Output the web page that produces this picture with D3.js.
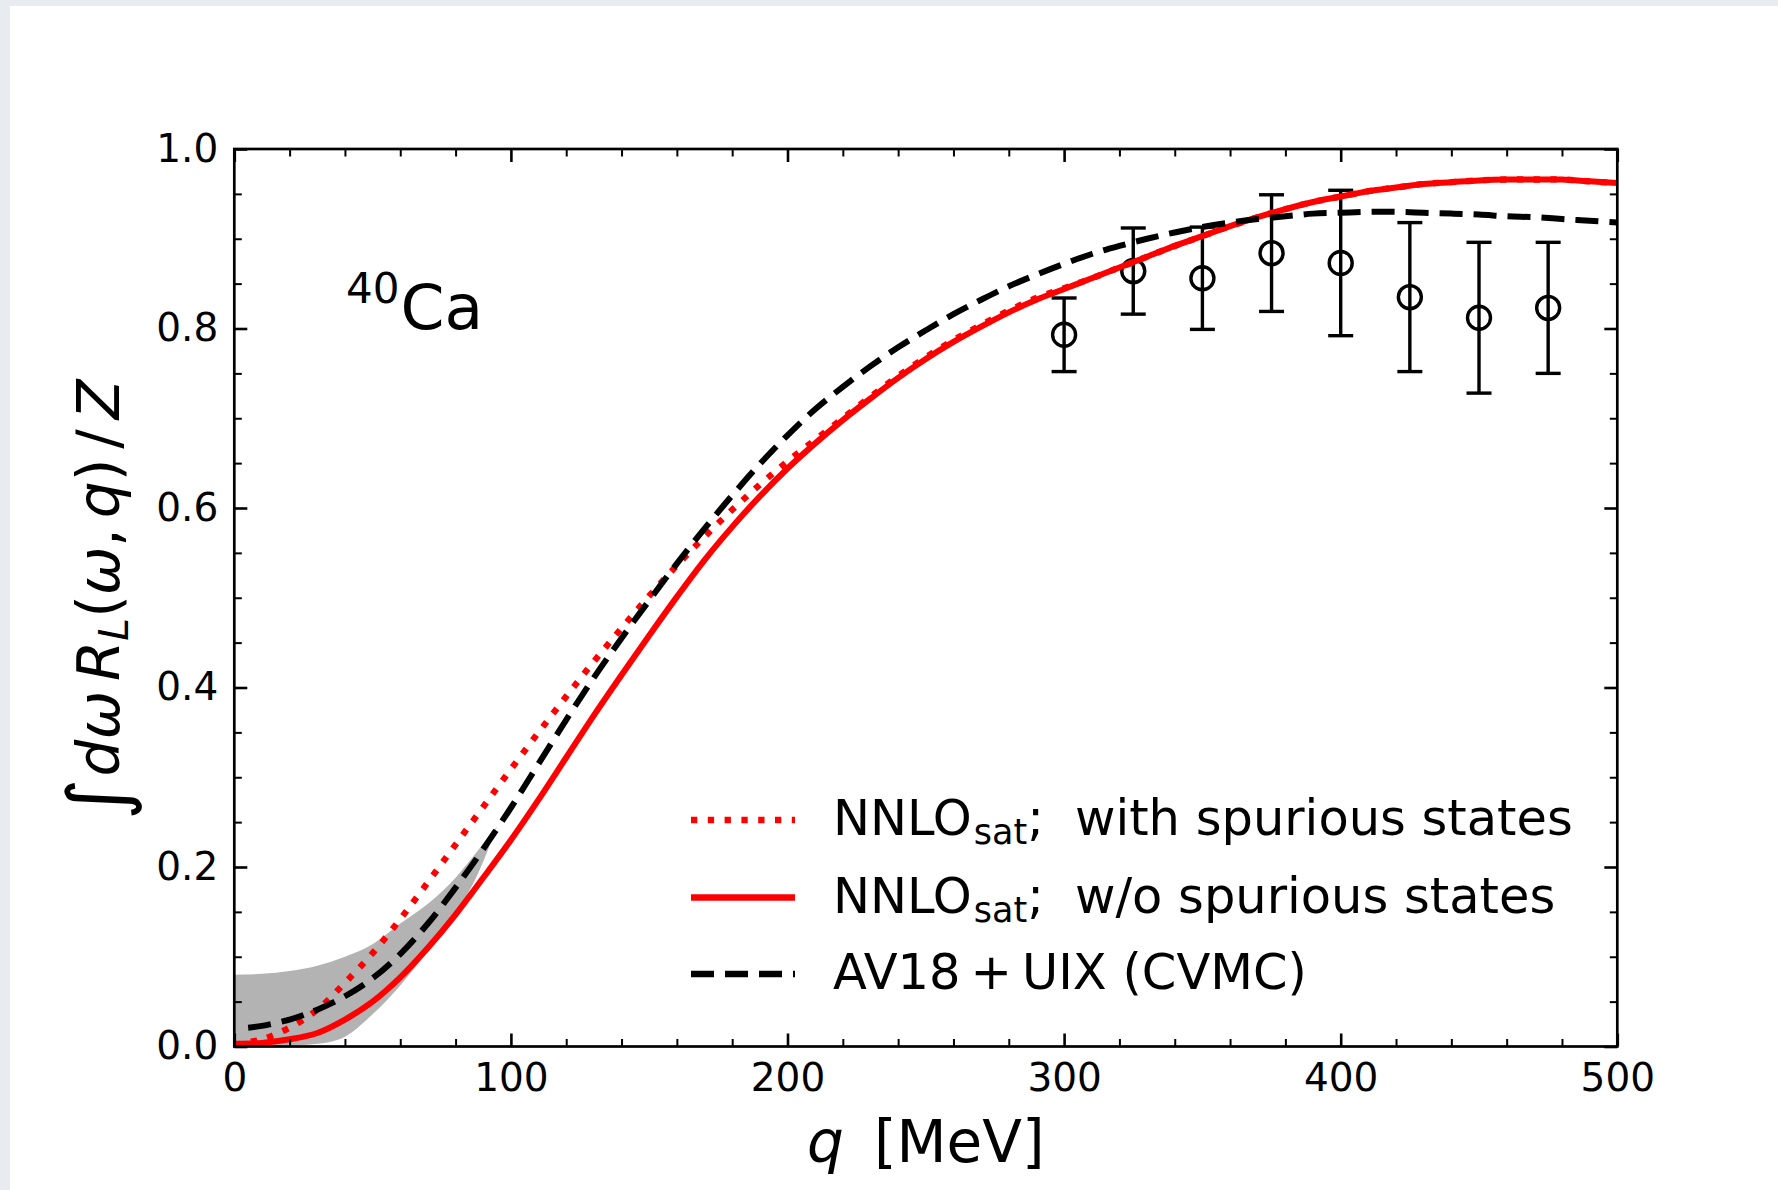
<!DOCTYPE html>
<html>
<head>
<meta charset="utf-8">
<script src="https://cdn.jsdelivr.net/npm/d3@7"></script>
<style>
  html, body { margin: 0; padding: 0; background: #e8ebef; }
  #chart { position: absolute; left: 0; top: 0; }
  text { font-family: "DejaVu Sans", sans-serif; fill: #000; }
</style>
</head>
<body>
<div id="chart"></div>
<script>
// q grid for the coupled-cluster curves [MeV]
const curveQ = [0, 10, 20, 30, 40, 50, 60, 70, 80, 90, 100, 110, 120, 130, 140, 150, 160, 170, 180, 190, 200,
  210, 220, 230, 240, 250, 260, 270, 280, 290, 300, 310, 320, 330, 340, 350, 360, 370, 380, 390, 400,
  410, 420, 430, 440, 450, 460, 470, 480, 490, 500];

// NNLOsat; w/o spurious states (red solid)
const noSpur = [0.003, 0.004, 0.008, 0.015, 0.030, 0.050, 0.077, 0.110, 0.147, 0.188, 0.230, 0.275, 0.322, 0.369, 0.414, 0.458, 0.501, 0.542, 0.579, 0.613, 0.644,
  0.672, 0.698, 0.722, 0.745, 0.766, 0.785, 0.802, 0.818, 0.832, 0.844, 0.856, 0.868, 0.880, 0.892, 0.903, 0.914, 0.924, 0.933, 0.941, 0.947,
  0.953, 0.957, 0.961, 0.963, 0.965, 0.966, 0.966, 0.966, 0.964, 0.962];

// NNLOsat; with spurious states (red dotted)
const withSpur = [0.002, 0.008, 0.021, 0.041, 0.071, 0.104, 0.142, 0.183, 0.225, 0.267, 0.309, 0.350, 0.390, 0.429, 0.466, 0.502, 0.536, 0.568, 0.598, 0.626, 0.652,
  0.676, 0.700, 0.724, 0.747, 0.768, 0.787, 0.804, 0.820, 0.834, 0.845, 0.856, 0.868, 0.880, 0.892, 0.903, 0.914, 0.924, 0.933, 0.941, 0.947,
  0.953, 0.957, 0.961, 0.963, 0.965, 0.966, 0.966, 0.966, 0.964, 0.962];

// AV18+UIX (CVMC) (black dashed)
const cvmcQ = [5, 10, 20, 30, 40, 50, 60, 70, 80, 90, 100, 110, 120, 130, 140, 150, 160, 170, 180, 190, 200,
  210, 220, 230, 240, 250, 260, 270, 280, 290, 300, 310, 320, 330, 340, 350, 360, 370, 380, 390, 400,
  410, 420, 430, 440, 450, 460, 470, 480, 490, 500];
const cvmc = [0.021, 0.023, 0.030, 0.041, 0.056, 0.076, 0.103, 0.137, 0.177, 0.220, 0.266, 0.315, 0.364, 0.411, 0.455, 0.497, 0.538, 0.577, 0.614, 0.649, 0.681,
  0.710, 0.735, 0.758, 0.779, 0.798, 0.816, 0.832, 0.847, 0.860, 0.872, 0.883, 0.892, 0.900, 0.907, 0.913, 0.918, 0.922, 0.925, 0.928, 0.929,
  0.930, 0.930, 0.929, 0.928, 0.927, 0.925, 0.924, 0.922, 0.920, 0.918];

// uncertainty band at low q (grey)
const bandQ = [0, 10, 20, 30, 40, 50, 60, 70, 80, 88, 95];
const bandLo = [0.000, 0.000, 0.001, 0.003, 0.011, 0.036, 0.068, 0.107, 0.148, 0.192, 0.245];
const bandHi = [0.080, 0.081, 0.084, 0.090, 0.100, 0.114, 0.137, 0.159, 0.188, 0.218, 0.245];

// experimental points
const expQ = [300, 325, 350, 375, 400, 425, 450, 475];
const expV = [0.793, 0.864, 0.856, 0.884, 0.873, 0.835, 0.812, 0.823];
const expErr = [0.041, 0.048, 0.057, 0.065, 0.081, 0.083, 0.084, 0.073];

const xMajor = [0, 100, 200, 300, 400, 500];
const yMajor = [0.0, 0.2, 0.4, 0.6, 0.8, 1.0];

const W = 1778, H = 1190;
const mLeft = 234.3, mRight = 1617.3, mTop = 149, mBottom = 1046.5;

const svg = d3.select('#chart').append('svg')
  .attr('width', W).attr('height', H);

// white panel
svg.append('rect').attr('x', 10).attr('y', 6).attr('width', W - 10).attr('height', H - 6).attr('fill', '#fff');

const x = d3.scaleLinear().domain([0, 500]).range([mLeft, mRight]);
const y = d3.scaleLinear().domain([0, 1]).range([mBottom, mTop]);

const plot = svg.append('g');

// band
const bandData = bandQ.map((q, i) => ({ q, lo: bandLo[i], hi: bandHi[i] }));
plot.append('path')
  .datum(bandData)
  .attr('fill', '#b3b3b3')
  .attr('d', d3.area().x(d => x(d.q)).y0(d => y(d.lo)).y1(d => y(d.hi)).curve(d3.curveMonotoneX));

// error bars
const expData = expQ.map((q, i) => ({ q, v: expV[i], e: expErr[i] }));
const eb = plot.append('g').attr('stroke', '#000').attr('stroke-width', 3.4).attr('fill', 'none');
eb.selectAll('line.bar').data(expData).enter().append('line')
  .attr('x1', d => x(d.q)).attr('x2', d => x(d.q))
  .attr('y1', d => y(d.v - d.e)).attr('y2', d => y(d.v + d.e));
eb.selectAll('line.capl').data(expData).enter().append('line')
  .attr('x1', d => x(d.q) - 12.5).attr('x2', d => x(d.q) + 12.5)
  .attr('y1', d => y(d.v - d.e)).attr('y2', d => y(d.v - d.e));
eb.selectAll('line.caph').data(expData).enter().append('line')
  .attr('x1', d => x(d.q) - 12.5).attr('x2', d => x(d.q) + 12.5)
  .attr('y1', d => y(d.v + d.e)).attr('y2', d => y(d.v + d.e));
eb.selectAll('circle').data(expData).enter().append('circle')
  .attr('cx', d => x(d.q)).attr('cy', d => y(d.v)).attr('r', 11.5);

// curves
const line = d3.line().x(d => x(d[0])).y(d => y(d[1])).curve(d3.curveCatmullRom.alpha(0.5));
plot.append('path')
  .datum(curveQ.map((q, i) => [q, withSpur[i]]))
  .attr('fill', 'none').attr('stroke', '#ff0000').attr('stroke-width', 6.3)
  .attr('stroke-dasharray', '6.3,10.5')
  .attr('d', line);
plot.append('path')
  .datum(curveQ.map((q, i) => [q, noSpur[i]]))
  .attr('fill', 'none').attr('stroke', '#ff0000').attr('stroke-width', 6)
  .attr('d', line);
plot.append('path')
  .datum(cvmcQ.map((q, i) => [q, cvmc[i]]))
  .attr('fill', 'none').attr('stroke', '#000').attr('stroke-width', 6)
  .attr('stroke-dasharray', '23,11')
  .attr('d', line);

// axes: ticks inward on all four sides
const major = 13, minor = 7.5;
const xMinor = d3.range(0, 501, 20).filter(v => v % 100 !== 0);
const yMinor = d3.range(0, 21).map(v => v * 0.05).filter((v, i) => i % 4 !== 0);

function styleAxis(g, w) {
  g.select('.domain').remove();
  g.selectAll('.tick line').attr('stroke', '#000').attr('stroke-width', w);
  g.selectAll('.tick text').attr('font-family', 'DejaVu Sans').attr('font-size', 39).attr('fill', '#000');
}

svg.append('g').attr('transform', `translate(0,${mBottom})`)
  .call(d3.axisBottom(x).tickValues(xMajor).tickSize(-major).tickPadding(17).tickFormat(d3.format('d')))
  .call(g => styleAxis(g, 2.6));
svg.append('g').attr('transform', `translate(0,${mBottom})`)
  .call(d3.axisBottom(x).tickValues(xMinor).tickSize(-minor).tickFormat(''))
  .call(g => styleAxis(g, 2));
svg.append('g').attr('transform', `translate(0,${mTop})`)
  .call(d3.axisTop(x).tickValues(xMajor).tickSize(-major).tickFormat(''))
  .call(g => styleAxis(g, 2.6));
svg.append('g').attr('transform', `translate(0,${mTop})`)
  .call(d3.axisTop(x).tickValues(xMinor).tickSize(-minor).tickFormat(''))
  .call(g => styleAxis(g, 2));

svg.append('g').attr('transform', `translate(${mLeft},0)`)
  .call(d3.axisLeft(y).tickValues(yMajor).tickSize(-major).tickPadding(16).tickFormat(d3.format('.1f')))
  .call(g => styleAxis(g, 2.6));
svg.append('g').attr('transform', `translate(${mLeft},0)`)
  .call(d3.axisLeft(y).tickValues(yMinor).tickSize(-minor).tickFormat(''))
  .call(g => styleAxis(g, 2));
svg.append('g').attr('transform', `translate(${mRight},0)`)
  .call(d3.axisRight(y).tickValues(yMajor).tickSize(-major).tickFormat(''))
  .call(g => styleAxis(g, 2.6));
svg.append('g').attr('transform', `translate(${mRight},0)`)
  .call(d3.axisRight(y).tickValues(yMinor).tickSize(-minor).tickFormat(''))
  .call(g => styleAxis(g, 2));

// frame
svg.append('rect')
  .attr('x', mLeft).attr('y', mTop).attr('width', mRight - mLeft).attr('height', mBottom - mTop)
  .attr('fill', 'none').attr('stroke', '#000').attr('stroke-width', 2.7);

// x label
const xl = svg.append('text')
  .attr('x', (mLeft + mRight) / 2).attr('y', 1162)
  .attr('text-anchor', 'middle').attr('font-size', 58);
xl.append('tspan').attr('font-style', 'italic').text('q');
xl.append('tspan').attr('dx', 30).text('[MeV]');

// y label
const yl = svg.append('text')
  .attr('transform', `translate(119,${(mTop + mBottom) / 2 + 2}) rotate(-90)`)
  .attr('text-anchor', 'middle').attr('font-size', 58);
yl.append('tspan').attr('font-size', 80).attr('dy', 6).text('∫');
yl.append('tspan').attr('font-style', 'italic').attr('dy', -6).attr('dx', 2).text('dω');
yl.append('tspan').attr('font-style', 'italic').attr('dx', 10).text('R');
yl.append('tspan').attr('font-style', 'italic').attr('font-size', 41).attr('dy', 9).text('L');
yl.append('tspan').attr('dy', -9).text('(');
yl.append('tspan').attr('font-style', 'italic').text('ω');
yl.append('tspan').text(',');
yl.append('tspan').attr('font-style', 'italic').attr('dx', 10).text('q');
yl.append('tspan').text(')');
yl.append('tspan').attr('dx', 10).text('/');
yl.append('tspan').attr('font-style', 'italic').attr('dx', 10).text('Z');

// nucleus label
const ca = svg.append('text').attr('x', 346).attr('y', 329);
ca.append('tspan').attr('font-size', 42).attr('dy', -26).text('40');
ca.append('tspan').attr('font-size', 63).attr('dy', 26).attr('dx', 1).text('Ca');

// legend
const legendRows = [
  { y: 820, label: 'with spurious states', color: '#ff0000', dash: '6.3,10.5', sub: true },
  { y: 897.5, label: 'w/o spurious states', color: '#ff0000', dash: null, sub: true },
  { y: 974, label: '', color: '#000', dash: '23,11', sub: false }
];
const lg = svg.append('g');
legendRows.forEach(r => {
  lg.append('line')
    .attr('x1', 691).attr('x2', 795).attr('y1', r.y).attr('y2', r.y)
    .attr('stroke', r.color).attr('stroke-width', 6.3)
    .attr('stroke-dasharray', r.dash);
  const t = lg.append('text').attr('x', 833).attr('y', r.y + 15).attr('font-size', 49.5);
  if (r.sub) {
    t.append('tspan').text('NNLO');
    t.append('tspan').attr('font-size', 35).attr('dy', 9).attr('dx', 2).text('sat');
    t.append('tspan').attr('dy', -9).text(';');
    t.append('tspan').attr('dx', 31).text(r.label);
  } else {
    t.append('tspan').text('AV18');
    t.append('tspan').attr('dx', 10).text('+');
    t.append('tspan').attr('dx', 10).text('UIX');
    t.append('tspan').text(' (CVMC)');
  }
});
</script>
</body>
</html>
